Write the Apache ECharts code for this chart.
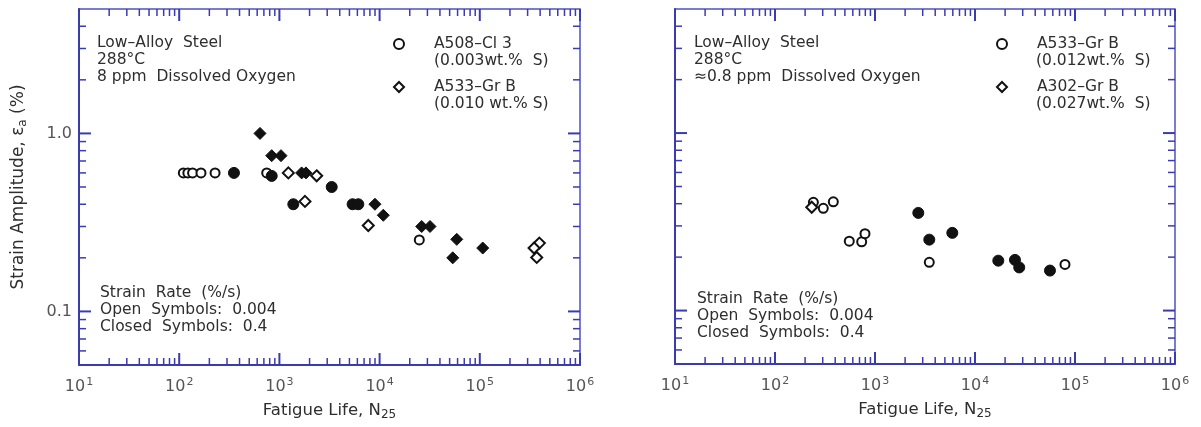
<!DOCTYPE html>
<html><head><meta charset="utf-8">
<script src="https://cdn.jsdelivr.net/npm/echarts@6/dist/echarts.min.js"></script>
<style>html,body{margin:0;padding:0;background:#fff}#c{width:1201px;height:427px}</style>
</head><body><div id="c"></div>
<script>
// ---------- data: [fatigue life N25, strain amplitude %] ----------
// Left panel: 8 ppm dissolved oxygen
const leftA508Open   = [[110,0.6],[122,0.6],[136,0.6],[165,0.6],[228,0.6],[747,0.6],[24900,0.252]];
const leftA508Closed = [[352,0.6],[838,0.577],[1377,0.4],[3327,0.5],[5380,0.4],[6130,0.4]];
const leftA533Open   = [[1228,0.6],[2355,0.578],[1800,0.415],[7710,0.304],[393000,0.242],[348000,0.227],[370000,0.201]];
const leftA533Closed = [[640,1.0],[838,0.75],[1037,0.75],[1667,0.6],[1841,0.6],[8990,0.4],[10890,0.347],[26300,0.3],[31850,0.3],[58900,0.254],[53700,0.2],[107000,0.227]];
// Right panel: ~0.8 ppm dissolved oxygen
const rightA533Open   = [[242,0.407],[304,0.377],[383,0.41],[553,0.246],[736,0.244],[794,0.271],[3490,0.187],[79400,0.182]];
const rightA533Closed = [[2710,0.355],[3490,0.251],[5930,0.274]];
const rightA302Open   = [[233,0.382]];
const rightA302Closed = [[17100,0.191],[25100,0.193],[27700,0.175],[56200,0.168]];

// ---------- axes / ticks ----------
const X_MIN = 10, X_MAX = 1e6, Y_MIN = 0.05, Y_MAX = 5;
const xDecadeExps = [1,2,3,4,5,6];
const minorMultipliers = [2,3,4,5,6,7,8,9];
const yMajorTicks = [0.1, 1];
const yMinorTicks = [0.06,0.07,0.08,0.09,0.2,0.3,0.4,0.5,0.6,0.7,0.8,0.9,2,3,4];
const yLabelText = {'0.1':'0.1','1':'1.0'};

const legendNames = {
  L508:'A508–Cl 3', L533:'A533–Gr B', R533:'A533–Gr B', R302:'A302–Gr B'
};

const AXIS = '#3b3bb0';
const TXT = '#2e2e2e';
const FONT = 'DejaVu Sans';

function buildTicks(){
  const t = [];
  xDecadeExps.forEach(e => {
    const d = Math.pow(10, e);
    t.push([d, Y_MIN, 0, 1]);
    if (e < 6) minorMultipliers.forEach(m => t.push([m*d, Y_MIN, 0, 0]));
  });
  yMajorTicks.forEach(v => t.push([X_MIN, v, 1, 1]));
  yMinorTicks.forEach(v => t.push([X_MIN, v, 1, 0]));
  return t;
}
const tickData = buildTicks();

function renderTick(params, api){
  const cs = params.coordSys;
  const kind = api.value(2), major = api.value(3);
  const len = major ? 12 : 7;
  const style = {stroke: AXIS, lineWidth: major ? 2 : 1.5};
  if (kind === 0) {
    const x = api.coord([api.value(0), Y_MIN])[0];
    const yb = cs.y + cs.height, yt = cs.y;
    return {type:'group', children:[
      {type:'line', shape:{x1:x, y1:yb, x2:x, y2:yb-len}, style},
      {type:'line', shape:{x1:x, y1:yt, x2:x, y2:yt+len}, style}
    ]};
  } else {
    const y = api.coord([X_MIN, api.value(1)])[1];
    const xl = cs.x, xr = cs.x + cs.width;
    return {type:'group', children:[
      {type:'line', shape:{x1:xl, y1:y, x2:xl+len, y2:y}, style},
      {type:'line', shape:{x1:xr, y1:y, x2:xr-len, y2:y}, style}
    ]};
  }
}

function xAxisCfg(i){
  return {
    type:'log', logBase:10, min:X_MIN, max:X_MAX, gridIndex:i,
    axisLine:{show:true, lineStyle:{color:AXIS, width:2}},
    axisTick:{show:false}, splitLine:{show:false}, minorTick:{show:false},
    axisLabel:{
      margin:12, color:'#555', fontFamily:FONT,
      formatter: v => '{b|10}{s|' + Math.round(Math.log10(v)) + '}',
      rich:{ b:{fontSize:16, fontFamily:FONT, color:'#555'}, s:{fontSize:11, fontFamily:FONT, color:'#555', padding:[0,0,9,1]} }
    },
    name:'Fatigue Life, N{sub|25}', nameLocation:'middle', nameGap:36,
    nameTextStyle:{fontSize:16.5, fontFamily:FONT, color:TXT,
      rich:{sub:{fontSize:12, fontFamily:FONT, color:TXT, padding:[8,0,0,0]}}}
  };
}
function yAxisCfg(i, withLabels){
  return {
    type:'log', logBase:10, min:Y_MIN, max:Y_MAX, gridIndex:i,
    axisLine:{show:true, lineStyle:{color:AXIS, width:2}},
    axisTick:{show:false}, splitLine:{show:false}, minorTick:{show:false},
    axisLabel:{
      show:withLabels, margin:7, fontSize:16, fontFamily:FONT, color:'#555',
      showMinLabel:false, showMaxLabel:false,
      formatter: v => { const k = String(+v.toPrecision(6)); return yLabelText[k] || ''; }
    },
    name: withLabels ? 'Strain Amplitude, ε{sub|a} (%)' : '',
    nameLocation:'middle', nameRotate:90, nameGap:50,
    nameTextStyle:{fontSize:17, fontFamily:FONT, color:TXT,
      rich:{sub:{fontSize:12, fontFamily:FONT, color:TXT, padding:[8,0,0,0]}}}
  };
}

const openStyle = {color:'#fff', borderColor:'#111', borderWidth:2, opacity:1};
const closedStyle = {color:'#111', borderColor:'#111', borderWidth:1, opacity:1};

function scatter(name, data, gi, symbol, open){
  return {
    type:'scatter', name, data, xAxisIndex:gi, yAxisIndex:gi,
    symbol, symbolSize: symbol === 'diamond' ? (open ? 11 : 12) : (open ? 9 : 11),
    itemStyle: open ? openStyle : closedStyle, z:5
  };
}

function txt(x, y, lines, extra){
  return {type:'text', left:x, top:y, style:Object.assign({
    text: lines.join('\n'), fontSize:15.5, fontFamily:FONT, fill:TXT, lineHeight:17
  }, extra||{})};
}

function legendCfg(names, iconLeft){
  return {
    data:names, left:iconLeft, top:31, orient:'vertical', itemWidth:10, itemHeight:10, itemGap:27,
    selectedMode:false,
    formatter:n => '{g|}{t|' + legendNames[n] + '}',
    textStyle:{fontSize:15.5, fontFamily:FONT, color:TXT,
      rich:{g:{width:25}, t:{fontSize:15.5, fontFamily:FONT, color:TXT}}}
  };
}

const option = {
  backgroundColor:'#fff',
  animation:false,
  grid:[
    {left:79, top:9, width:501, height:356, show:true, borderColor:'#5050c0', borderWidth:1.5, containLabel:false},
    {left:675, top:9, width:500, height:355, show:true, borderColor:'#5050c0', borderWidth:1.5, containLabel:false}
  ],
  xAxis:[xAxisCfg(0), xAxisCfg(1)],
  yAxis:[yAxisCfg(0,true), yAxisCfg(1,false)],
  legend:[ legendCfg(['L508','L533'], 388), legendCfg(['R533','R302'], 991) ],
  graphic:[
    txt(97, 34, ['Low–Alloy  Steel','288°C','8 ppm  Dissolved Oxygen']),
    txt(434, 52, ['(0.003wt.%  S)']),
    txt(434, 95, ['(0.010 wt.% S)']),
    txt(100, 284, ['Strain  Rate  (%/s)','Open  Symbols:  0.004','Closed  Symbols:  0.4']),
    txt(694, 34, ['Low–Alloy  Steel','288°C','≈0.8 ppm  Dissolved Oxygen']),
    txt(1036, 52, ['(0.012wt.%  S)']),
    txt(1036, 95, ['(0.027wt.%  S)']),
    txt(697, 290, ['Strain  Rate  (%/s)','Open  Symbols:  0.004','Closed  Symbols:  0.4'])
  ],
  series:[
    scatter('L508', leftA508Open, 0, 'circle', true),
    scatter('L508c', leftA508Closed, 0, 'circle', false),
    scatter('L533', leftA533Open, 0, 'diamond', true),
    scatter('L533c', leftA533Closed, 0, 'diamond', false),
    scatter('R533', rightA533Open, 1, 'circle', true),
    scatter('R533c', rightA533Closed, 1, 'circle', false),
    scatter('R302', rightA302Open, 1, 'diamond', true),
    scatter('R302c', rightA302Closed, 1, 'circle', false),
    {type:'custom', name:'ticksL', xAxisIndex:0, yAxisIndex:0, data:tickData, renderItem:renderTick,
     encode:{x:0, y:1}, silent:true, z:3, clip:false},
    {type:'custom', name:'ticksR', xAxisIndex:1, yAxisIndex:1, data:tickData, renderItem:renderTick,
     encode:{x:0, y:1}, silent:true, z:3, clip:false}
  ]
};

const chart = echarts.init(document.getElementById('c'), null, {renderer:'canvas'});
chart.setOption(option);
</script>
</body></html>
